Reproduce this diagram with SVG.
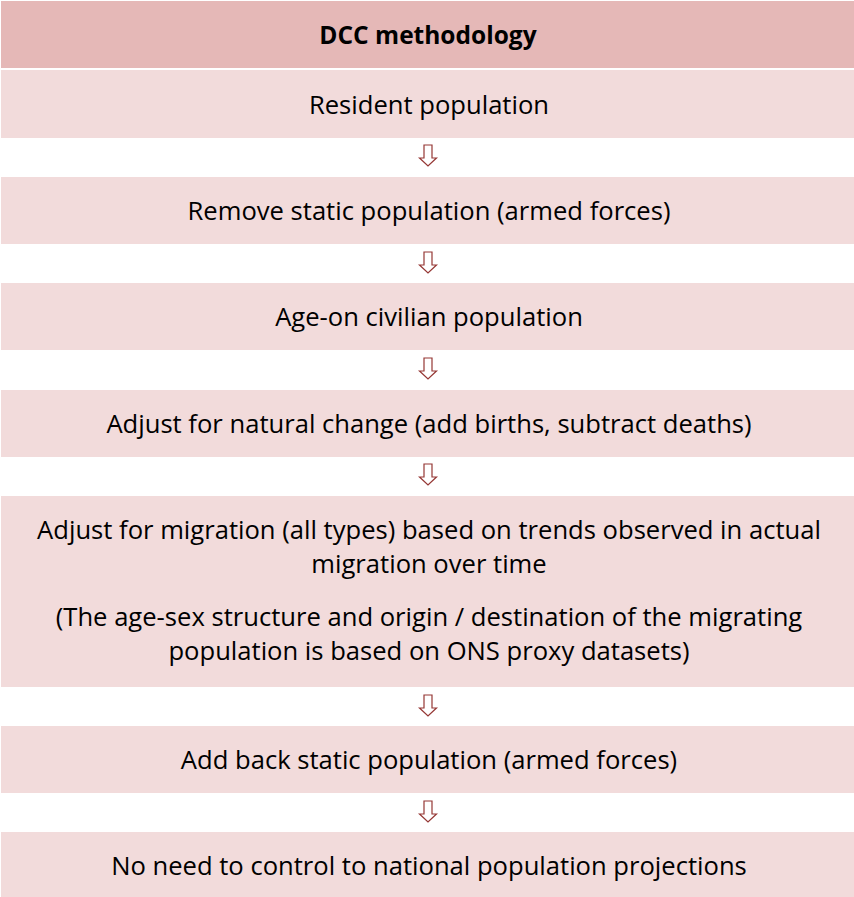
<svg xmlns="http://www.w3.org/2000/svg" width="854" height="897" viewBox="0 0 854 897">
<defs>
<style>
.hd{fill:#e5b8b7}
.bx{fill:#f2dbdb}
.t{font-family:"Open Sans","Noto Sans","Liberation Sans",sans-serif;font-size:25.6px;fill:#000;text-anchor:middle}
.tb{font-family:"Open Sans","Noto Sans","Liberation Sans",sans-serif;font-size:24.5px;font-weight:bold;fill:#000;text-anchor:middle}
.ar{fill:#fff;stroke:#953734;stroke-width:1.2;stroke-linejoin:miter}
</style>
<path id="arr" d="M-4,0 H4 V13 H8.5 L0,21 L-8.5,13 H-4 Z"/>
</defs>
<rect width="854" height="897" fill="#fff"/>
<g id="header"><rect class="hd" x="1" y="1" width="853" height="67"/><text class="tb" x="428" y="44">DCC methodology</text></g>
<g id="n1"><rect class="bx" x="1" y="70" width="853" height="68"/><text class="t" x="429" y="114">Resident population</text></g>
<g id="n2"><rect class="bx" x="1" y="177" width="853" height="67"/><text class="t" x="429" y="220">Remove static population (armed forces)</text></g>
<g id="n3"><rect class="bx" x="1" y="283" width="853" height="67"/><text class="t" x="429" y="326">Age-on civilian population</text></g>
<g id="n4"><rect class="bx" x="1" y="390" width="853" height="67"/><text class="t" x="429" y="433">Adjust for natural change (add births, subtract deaths)</text></g>
<g id="n5"><rect class="bx" x="1" y="496" width="853" height="191"/>
<text class="t" x="429" y="539">Adjust for migration (all types) based on trends observed in actual</text>
<text class="t" x="429" y="573">migration over time</text>
<text class="t" x="429" y="626">(The age-sex structure and origin / destination of the migrating</text>
<text class="t" x="429" y="660">population is based on ONS proxy datasets)</text></g>
<g id="n6"><rect class="bx" x="1" y="726" width="853" height="67"/><text class="t" x="429" y="769">Add back static population (armed forces)</text></g>
<g id="n7"><rect class="bx" x="1" y="832" width="853" height="65"/><text class="t" x="429" y="875">No need to control to national population projections</text></g>
<g id="connectors">
<use href="#arr" class="ar" x="428" y="145"/>
<use href="#arr" class="ar" x="428" y="252"/>
<use href="#arr" class="ar" x="428" y="358"/>
<use href="#arr" class="ar" x="428" y="464"/>
<use href="#arr" class="ar" x="428" y="695"/>
<use href="#arr" class="ar" x="428" y="801"/>
</g>
</svg>
